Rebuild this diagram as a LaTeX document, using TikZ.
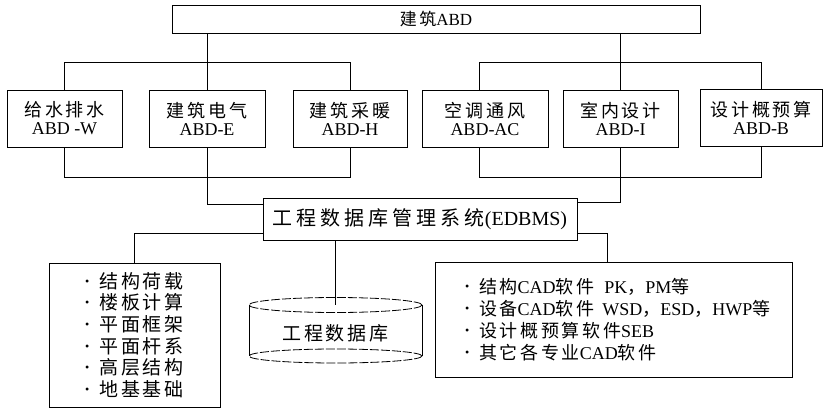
\documentclass[tikz,border=0pt]{standalone}
\usepackage{fontspec}
\setmainfont{Liberation Serif}
\newfontfamily\cjk[LetterSpace=15]{Noto Sans CJK SC}
\usetikzlibrary{calc}
\newcommand\bul{\makebox[14pt][l]{\raisebox{3pt}{\fontsize{12}{12}\selectfont\textbullet}}}
\begin{document}
\begin{tikzpicture}[x=1pt,y=-1pt,
  box/.style={draw, line width=1pt, inner sep=0pt},
  sub/.style={box, minimum height=57pt, align=center, font=\fontsize{18}{18}\selectfont},
  conn/.style={line width=0.8pt},
  ell/.style={line width=0.8pt, dash pattern=on 9pt off 2pt}]
\useasboundingbox (0,0) rectangle (825,410);
% top
\node[box, minimum width=528pt, minimum height=28pt, font=\fontsize{17}{20}\selectfont] (top) at (436,19) {{\cjk 建筑}ABD};
% sub-systems
\node[sub, minimum width=115pt] (w1) at (64.5,118.5) {{\cjk 给水排水}\\ABD -W};
\node[sub, minimum width=116pt] (e) at (207,118.5) {{\cjk 建筑电气}\\ABD-E};
\node[sub, minimum width=114pt] (h) at (350,118.5) {{\cjk 建筑采暖}\\ABD-H};
\node[sub, minimum width=126pt] (ac) at (485,118.5) {{\cjk 空调通风}\\ABD-AC};
\node[sub, minimum width=115pt] (i) at (620.5,118.5) {{\cjk 室内设计}\\ABD-I};
\node[sub, minimum width=122pt] (b) at (761,117.5) {{\cjk 设计概预算}\\ABD-B};
% EDBMS
\node[box, minimum width=314pt, minimum height=42pt, font=\fontsize{20}{22}\selectfont] (db) at (420,219) {{\cjk\addfontfeature{LetterSpace=20}工程数据库管理系统}(EDBMS)};
% left list
\node[box, minimum width=171pt, minimum height=144pt, align=left, font=\fontsize{19}{21.6}\selectfont] (lb) at (134.5,335)
 {\bul{\cjk 结构荷载}\\\bul{\cjk 楼板计算}\\\bul{\cjk 平面框架}\\\bul{\cjk 平面杆系}\\\bul{\cjk 高层结构}\\\bul{\cjk 地基基础}};
% right list
\node[box, minimum width=357pt, minimum height=115pt, text width=297pt, inner xsep=30pt, align=left, font=\fontsize{18}{22}\selectfont] (rb) at (613.5,319.5)
 {\mbox{\bul{\cjk 结构}CAD{\cjk 软件}\hspace{10pt}PK{\cjk ，}PM{\cjk 等}}\\
  \mbox{\bul{\cjk 设备}CAD{\cjk 软件}\hspace{8pt}WSD{\cjk ，}ESD{\cjk ，}HWP{\cjk 等}}\\
  \mbox{\bul{\cjk 设计概预算软件}SEB}\\
  \mbox{\bul{\cjk 其它各专业}CAD{\cjk 软件}}};
% cylinder
\draw[conn] (249,305) -- (249,356);
\draw[conn] (422,305) -- (422,356);
\draw[ell] (335.5,305) ellipse [x radius=86.5pt, y radius=7.5pt];
\draw[ell] (335.5,356) ellipse [x radius=86.5pt, y radius=7pt];
\node[font=\fontsize{19}{21}\selectfont] (cyl) at (335.5,333) {{\cjk 工程数据库}};
\coordinate (cyltop) at (335.5,305);
% bracket heights
\coordinate (ytop) at (0,62);
\coordinate (ybot) at (0,177);
% connectors top
\draw[conn] (top.south -| e.north) -- (e.north);
\draw[conn] (top.south -| i.north) -- (i.north);
\draw[conn] (w1.north) |- (ytop -| h.north) -- (h.north);
\draw[conn] ($(ac.north)+(-6,0)$) |- (ytop -| b.north) -- (b.north);
\draw[conn] (w1.south) |- (ybot -| h.south) -- (h.south);
\draw[conn] ($(ac.south)+(-6,0)$) |- (ybot -| b.south) -- (b.south);
\draw[conn] (e.south) |- ($(db.north west)+(0,7)$);
\draw[conn] (i.south) |- ($(db.north east)+(0,5)$);
% connectors bottom
\draw[conn] ($(db.south west)+(0,-7)$) -| (lb.north);
\draw[conn] ($(db.south east)+(0,-7)$) -| ($(rb.north)+(-6,0)$);
\draw[conn] (db.south -| cyltop) -- (cyltop);
\end{tikzpicture}
\end{document}
